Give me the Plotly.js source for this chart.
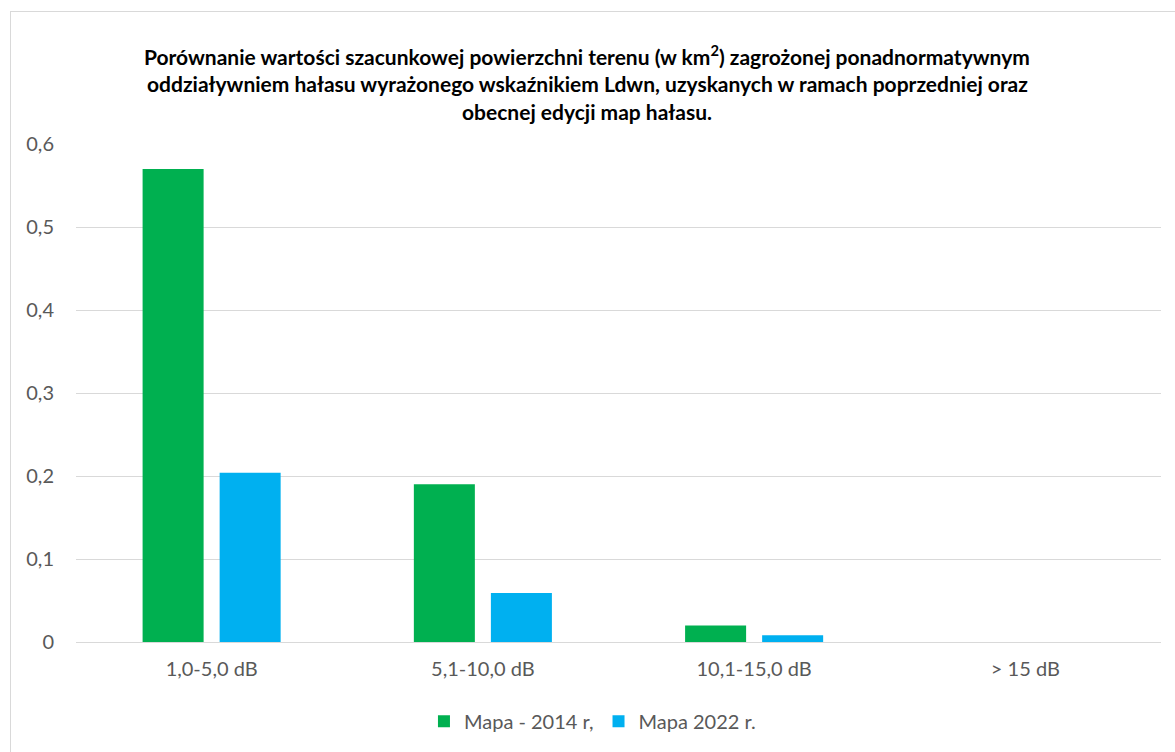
<!DOCTYPE html>
<html>
<head>
<meta charset="utf-8">
<script src="https://cdn.plot.ly/plotly-3.0.1.min.js"></script>
<style>
  html, body { margin: 0; padding: 0; background: #fff; }
  #wrap { position: relative; width: 1175px; height: 752px; }
  #chart { width: 1175px; height: 752px; }
  #frame { position: absolute; left: 10px; top: 11px; width: 1175px; height: 760px;
           border-left: 1px solid #D9D9D9; border-top: 1px solid #D9D9D9; pointer-events: none; }
</style>
</head>
<body>
<div id="wrap">
  <div id="chart"></div>
  <div id="frame"></div>
</div>
<script>
const categories = ["1,0-5,0 dB", "5,1-10,0 dB", "10,1-15,0 dB", "> 15 dB"];
const series2014 = [0.57, 0.19, 0.02, 0];
const series2022 = [0.204, 0.059, 0.008, 0];
const seriesNames = ["Mapa - 2014 r,", "Mapa 2022 r."];
const titleLines = [
  "Porównanie wartości szacunkowej powierzchni terenu (w km<sup>2</sup>) zagrożonej ponadnormatywnym",
  "oddziaływniem hałasu wyrażonego wskaźnikiem Ldwn, uzyskanych w ramach poprzedniej oraz",
  "obecnej edycji map hałasu."
];
const yTicks = [0, 0.1, 0.2, 0.3, 0.4, 0.5, 0.6];

const FONT = "Lato, 'Open Sans', sans-serif";
const traces = [
  { type: "bar", name: seriesNames[0], x: categories, y: series2014,
    marker: { color: "#00B050" }, hoverinfo: "x+y" },
  { type: "bar", name: seriesNames[1], x: categories, y: series2022,
    marker: { color: "#00B0F0" }, hoverinfo: "x+y" }
];

const titleY = [55, 83, 111];
const annotations = titleLines.map((t, i) => ({
  text: "<b>" + t + "</b>", xref: "paper", yref: "paper",
  x: (587 - 76) / 1085, y: (643 - titleY[i]) / 499,
  xanchor: "center", yanchor: "middle", showarrow: false,
  font: { family: FONT, size: 21, color: "#000000" }
}));

const layout = {
  width: 1175, height: 752,
  margin: { l: 76, r: 14, t: 144, b: 109, pad: 0 },
  paper_bgcolor: "#ffffff", plot_bgcolor: "#ffffff",
  separators: ", ",
  font: { family: FONT, size: 20, color: "#595959" },
  barmode: "group", bargap: 0.432, bargroupgap: 0.208,
  showlegend: true,
  legend: { orientation: "h", x: 0.476, xanchor: "center", y: -0.157, yanchor: "middle",
            font: { family: FONT, size: 20, color: "#595959" }, itemwidth: 30,
            traceorder: "normal" },
  xaxis: { type: "category", showgrid: false, zeroline: false, showline: false,
           ticks: "", ticklabelstandoff: 13,
           tickfont: { family: FONT, size: 20, color: "#595959" } },
  yaxis: { range: [0, 0.6], tickvals: yTicks, showgrid: true, gridcolor: "#D9D9D9",
           gridwidth: 1, zeroline: true, zerolinecolor: "#D9D9D9", zerolinewidth: 1,
           showline: false, ticks: "", ticklabelstandoff: 21,
           tickfont: { family: FONT, size: 20, color: "#595959" } },
  annotations: annotations
};

Plotly.newPlot("chart", traces, layout, { displayModeBar: false, staticPlot: true });
</script>
</body>
</html>
